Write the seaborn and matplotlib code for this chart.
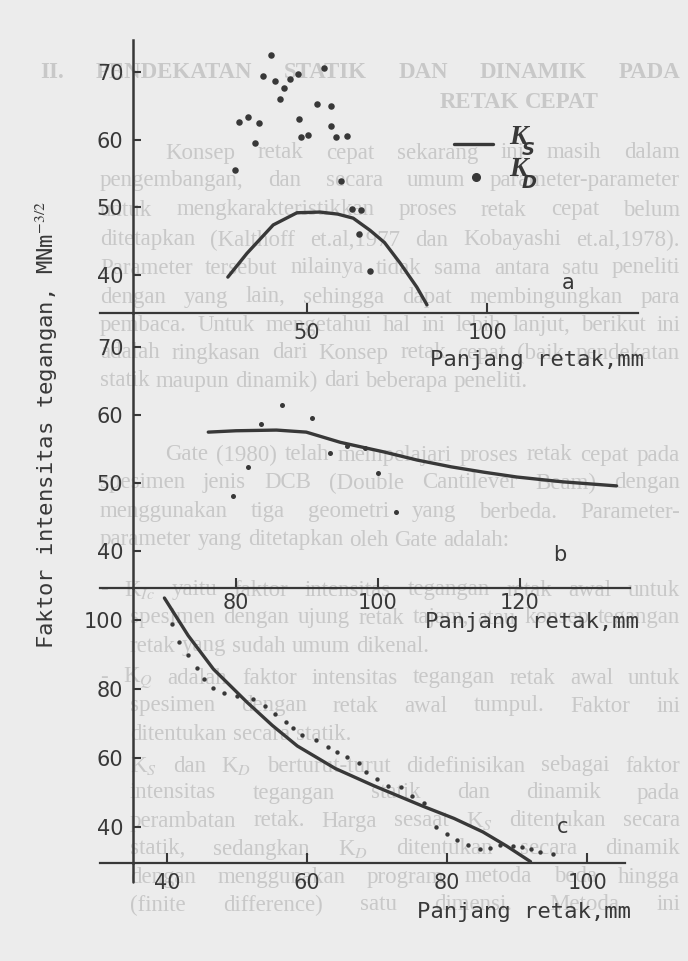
import matplotlib
matplotlib.use('Agg')
import matplotlib.pyplot as plt
from matplotlib.lines import Line2D
import seaborn as sns

W, H = 688, 961
ink = '#383838'
paper = '#ececec'
ghost = '#c8c8c8'

# panel a: Ks curve and Kd scatter
a_ks_x = [28, 33.3, 40.6, 47.2, 53.6, 58.5, 62.8, 67.5, 71.5, 75.8, 80.5, 83.3]
a_ks_y = [39.7, 43.2, 47.4, 49.2, 49.3, 49.0, 48.4, 46.6, 44.8, 41.8, 38.2, 35.6]
a_kd_x = [30, 31.1, 33.6, 36.7, 35.6, 37.8, 40, 41.1, 42.5, 43.6, 45.3, 47.5, 47.8,
          48.3, 50.3, 52.8, 54.7, 56.7, 56.7, 58, 61, 59.4, 62.5, 65, 64.4, 67.5]
a_kd_y = [55.5, 62.6, 63.4, 62.5, 59.5, 69.4, 72.5, 68.7, 66, 67.6, 69, 69.7, 63,
          60.4, 60.7, 65.3, 70.6, 65, 62, 60.4, 60.5, 53.9, 49.8, 49.6, 46.1, 40.6]

# panel b
b_ks_x = [76.1, 80, 85.7, 89.9, 94.7, 100.8, 105.5, 110.3, 115, 119.6, 126, 133.6]
b_ks_y = [57.5, 57.7, 57.8, 57.5, 56.0, 54.6, 53.4, 52.4, 51.6, 50.9, 50.2, 49.6]
b_kd_x = [79.6, 81.7, 83.5, 86.5, 90.7, 93.2, 95.6, 98.2, 100, 102.5]
b_kd_y = [48.1, 52.4, 58.7, 61.5, 59.6, 54.4, 55.4, 55.1, 51.5, 45.7]

# panel c
c_ks_x = [39.6, 43, 46.6, 51.4, 55, 58.6, 64, 69.5, 76.6, 81, 85.1, 88.5, 91.9]
c_ks_y = [106.4, 95.5, 85.8, 76.2, 69.5, 63.5, 57, 52, 46, 42.5, 38.6, 34.5, 30]
c_kd_x = [40.7, 41.7, 43, 44.3, 45.3, 46.6, 48.1, 50, 52.3, 53.9, 55.4, 56.9, 58,
          59.3, 61.3, 62.9, 64.3, 65.7, 67.4, 68.4, 69.9, 71.6, 73.4, 75, 76.7,
          78.4, 80, 81.4, 83, 84.7, 86.1, 87.6, 89.4, 90.7, 91.9, 93.3, 95.1]
c_kd_y = [98.8, 93.6, 90, 86.2, 82.9, 80.3, 78.8, 78, 77.1, 75.1, 72.8, 70.5, 68.7,
          66.7, 65.2, 63.3, 61.7, 60.3, 58.6, 55.9, 54, 51.9, 51.7, 49, 47,
          40, 38, 36.3, 34.8, 33.6, 33.9, 34.8, 34.5, 34.2, 33.6, 32.8, 32.2]

xlabel = 'Panjang retak,mm'
ylabel = r'Faktor intensitas tegangan, MNm$^{-3/2}$'

# faded page text showing through behind the figure
page_lines = [
    ('II.   PENDEKATAN STATIK DAN DINAMIK PADA', 40, 680, 72, True),
    ('RETAK CEPAT', 440, None, 102, True),
    ('Konsep retak cepat sekarang ini masih dalam', 165, 680, 153, False),
    ('pengembangan, dan secara umum parameter-parameter', 100, 680, 181, False),
    ('untuk mengkarakteristikkan proses retak cepat belum', 100, 680, 210, False),
    ('ditetapkan (Kalthoff et.al,1977 dan Kobayashi et.al,1978).', 100, 680, 240, False),
    ('Parameter tersebut nilainya tidak sama antara satu peneliti', 100, 680, 268, False),
    ('dengan yang lain, sehingga dapat membingungkan para', 100, 680, 297, False),
    ('pembaca. Untuk mengetahui hal ini lebih lanjut, berikut ini', 100, 680, 325, False),
    ('adalah ringkasan dari Konsep retak cepat (baik pendekatan', 100, 680, 353, False),
    ('statik maupun dinamik) dari beberapa peneliti.', 100, None, 381, False),
    ('Gate (1980) telah mempelajari proses retak cepat pada', 165, 680, 455, False),
    ('spesimen jenis DCB (Double Cantilever Beam) dengan', 100, 680, 483, False),
    ('menggunakan tiga geometri yang berbeda. Parameter-', 100, 680, 512, False),
    ('parameter yang ditetapkan oleh Gate adalah:', 100, None, 540, False),
    ('- K$_{Ic}$ yaitu faktor intensitas tegangan retak awal untuk', 100, 680, 590, False),
    ('spesimen dengan ujung retak tajam, atau konsep tegangan', 130, 680, 618, False),
    ('retak yang sudah umum dikenal.', 130, None, 646, False),
    ('- K$_Q$ adalah faktor intensitas tegangan retak awal untuk', 100, 680, 678, False),
    ('spesimen dengan retak awal tumpul. Faktor ini', 130, 680, 706, False),
    ('ditentukan secara statik.', 130, None, 734, False),
    ('K$_S$ dan K$_D$ berturut-turut didefinisikan sebagai faktor', 130, 680, 766, False),
    ('intensitas tegangan statik dan dinamik pada', 130, 680, 793, False),
    ('perambatan retak. Harga sesaat K$_S$ ditentukan secara', 130, 680, 821, False),
    ('statik, sedangkan K$_D$ ditentukan secara dinamik', 130, 680, 849, False),
    ('dengan menggunakan program metoda beda hingga', 130, 680, 877, False),
    ('(finite difference) satu dimensi. Metoda ini', 130, 680, 905, False),
]

sns.set_style('ticks')
plt.rcParams['font.family'] = ['DejaVu Sans']
plt.rcParams['mathtext.fontset'] = 'stix'


def fx(px):
    return px / W


def fy(py):
    return 1 - py / H


fig = plt.figure(figsize=(W / 100, H / 100), dpi=100, facecolor=paper)
rend = fig.canvas.get_renderer()

# justified background text, word by word
for text, x0, x1, y, bold in page_lines:
    words = text.split()
    arts = [fig.text(0, fy(y), w, fontsize=16.5, family='Liberation Serif',
                     weight='bold' if bold else 'normal', color=ghost,
                     va='center', zorder=-5) for w in words]
    widths = [a.get_window_extent(rend).width for a in arts]
    if x1 is None or len(words) < 2:
        gap = 6
    else:
        gap = max(3, (x1 - x0 - sum(widths)) / (len(words) - 1))
    x = x0
    for a, w in zip(arts, widths):
        a.set_x(fx(x))
        x += w + gap

spine_px = 133
left_px = 100
panels = [
    # right, top, bottom, xlim, ylim, xticks, yticks, xpad
    (638, 40, 313, (-7.5, 141.9), (34.4, 74.7), [50, 100], [40, 50, 60, 70], 7),
    (630, 313, 588, (60.85, 135.5), (34.6, 75.0), [80, 100, 120], [40, 50, 60, 70], 3.5),
    (625, 588, 863, (30.4, 105.4), (29.6, 109.3), [40, 60, 80, 100], [40, 60, 80, 100], 7),
]
axes = []
for right, top, bot, xl, yl, xt, yt, xpad in panels:
    ax = fig.add_axes([fx(left_px), fy(bot), (right - left_px) / W, (bot - top) / H])
    ax.set_facecolor('none')
    ax.set_xlim(xl)
    ax.set_ylim(yl)
    ax.spines['top'].set_visible(False)
    ax.spines['right'].set_visible(False)
    ax.spines['left'].set_position(('axes', (spine_px - left_px) / (right - left_px)))
    ax.spines['left'].set_linewidth(1.8)
    ax.spines['bottom'].set_linewidth(1.6)
    ax.spines['left'].set_color(ink)
    ax.spines['bottom'].set_color(ink)
    ax.set_xticks(xt)
    ax.set_yticks(yt)
    ax.tick_params(axis='x', direction='in', length=7, width=1.5, pad=xpad,
                   labelsize=15, colors=ink)
    ax.tick_params(axis='y', direction='in', length=6, width=1.5, pad=7,
                   labelsize=15, colors=ink)
    axes.append(ax)

ax_a, ax_b, ax_c = axes

sns.lineplot(x=a_ks_x, y=a_ks_y, ax=ax_a, color=ink, linewidth=2.4, sort=False, estimator=None)
sns.scatterplot(x=a_kd_x, y=a_kd_y, ax=ax_a, color=ink, s=22, linewidth=0, legend=False)

sns.lineplot(x=b_ks_x, y=b_ks_y, ax=ax_b, color=ink, linewidth=2.4, sort=False, estimator=None)
sns.scatterplot(x=b_kd_x, y=b_kd_y, ax=ax_b, color=ink, s=13, linewidth=0, legend=False)

sns.lineplot(x=c_ks_x, y=c_ks_y, ax=ax_c, color=ink, linewidth=2.4, sort=False, estimator=None)
sns.scatterplot(x=c_kd_x, y=c_kd_y, ax=ax_c, color=ink, s=10, linewidth=0, legend=False)

for ax in axes:
    ax.set_xlabel('')
    ax.set_ylabel('')

# axis line continues a little below panel c
fig.add_artist(Line2D([fx(spine_px)] * 2, [fy(863), fy(882)], color=ink, lw=1.8))

# x labels and panel letters
for lx, ly in [(430, 360), (425, 622), (417, 912)]:
    fig.text(fx(lx), fy(ly), xlabel, family='DejaVu Sans Mono', fontsize=16,
             color=ink, ha='left', va='center')
for letter, lx, ly in [('a', 568, 283), ('b', 560, 555), ('c', 563, 827)]:
    fig.text(fx(lx), fy(ly), letter, fontsize=15, color=ink, ha='center', va='center')

fig.text(fx(47), fy(425), ylabel, family='DejaVu Sans Mono', fontsize=16, color=ink,
         rotation=90, ha='center', va='center')

# hand-drawn legend
fig.add_artist(Line2D([fx(454), fx(493)], [fy(144), fy(144)], color=ink, lw=2.4))
fig.add_artist(Line2D([fx(476)], [fy(177)], color=ink, marker='o', markersize=5.5, lw=0))
for sub, ky in [('S', 137), ('D', 170)]:
    fig.text(fx(509), fy(ky), 'K', family='Liberation Serif', weight='bold',
             style='italic', fontsize=20, color=ink, ha='left', va='center')
    fig.text(fx(522), fy(ky + 13), sub, family='DejaVu Sans', weight='bold',
             style='italic', fontsize=13, color=ink, ha='left', va='center')

fig.savefig('out.png', dpi=100, facecolor=paper)
